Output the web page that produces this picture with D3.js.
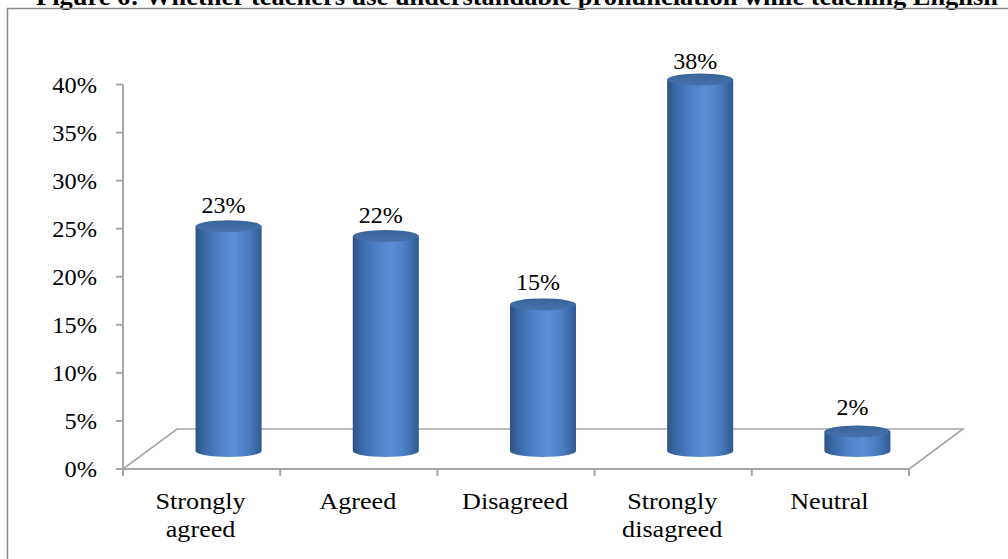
<!DOCTYPE html>
<html>
<head>
<meta charset="utf-8">
<script src="https://cdn.jsdelivr.net/npm/d3@7"></script>
<style>
  html, body { margin: 0; padding: 0; background: #ffffff; }
  svg { display: block; }
  text { font-family: "Liberation Serif", "Times New Roman", serif; fill: #000; }
</style>
</head>
<body>
<svg id="chart" width="1008" height="559"></svg>
<script>
// Survey responses (percent of respondents)
const categories = ["Strongly agreed", "Agreed", "Disagreed", "Strongly disagreed", "Neutral"];
const values = [23, 22, 15, 38, 2];
const yTicks = [0, 5, 10, 15, 20, 25, 30, 35, 40];
const titleText = "Figure 6: Whether teachers use understandable pronunciation while teaching English";

const svg = d3.select("#chart");

// Title (sits above the chart frame)
svg.append("text")
  .attr("x", 36).attr("y", 4.5)
  .attr("font-size", 25).attr("font-weight", "bold")
  .attr("textLength", 962).attr("lengthAdjust", "spacingAndGlyphs")
  .text(titleText);

// Chart frame
svg.append("rect")
  .attr("x", 7.5).attr("y", 8.5)
  .attr("width", 1100).attr("height", 700)
  .attr("fill", "none").attr("stroke", "#8a8a8a").attr("stroke-width", 1.5);

// Scales: front plane of the 3D box and the mid-depth plane the cylinders stand in
const x = d3.scaleBand().domain(categories).range([123, 909]);
const yFront = d3.scaleLinear().domain([0, 40]).range([469, 84.5]);
const yBar = d3.scaleLinear().domain([0, 40]).range([451, 60]);
const depth = { dx: 54, dy: -40 };
const barShift = depth.dx / 2;
const rx = x.bandwidth() * 0.21;
const ry = 6;

const gridColor = "#a6a6a6";

// Floor of the 3D box
const x0 = x.range()[0], x1 = x.range()[1], yb = yFront(0);
svg.append("path")
  .attr("d", `M${x0},${yb} L${x0 + depth.dx},${yb + depth.dy} L${x1 + depth.dx},${yb + depth.dy} L${x1},${yb}`)
  .attr("fill", "none").attr("stroke", gridColor).attr("stroke-width", 1.6);

// Value axis
svg.append("line")
  .attr("x1", x0).attr("x2", x0)
  .attr("y1", yFront(40)).attr("y2", yb + 5)
  .attr("stroke", gridColor).attr("stroke-width", 2);

svg.selectAll(".ytick").data(yTicks).enter().append("line")
  .attr("x1", x0 - 7).attr("x2", x0)
  .attr("y1", d => yFront(d)).attr("y2", d => yFront(d))
  .attr("stroke", gridColor).attr("stroke-width", 2);

svg.selectAll(".ylab").data(yTicks).enter().append("text")
  .attr("text-anchor", "end")
  .attr("font-size", 23)
  .attr("transform", d => `translate(97,${yFront(d) + 8}) scale(1.06,1)`)
  .text(d => d + "%");

// Category axis
svg.append("line")
  .attr("x1", x0).attr("x2", x1)
  .attr("y1", yb).attr("y2", yb)
  .attr("stroke", gridColor).attr("stroke-width", 2);

const catEdges = categories.map(c => x(c)).concat([x1]);
svg.selectAll(".xtick").data(catEdges).enter().append("line")
  .attr("x1", d => d).attr("x2", d => d)
  .attr("y1", yb).attr("y2", yb + 7)
  .attr("stroke", gridColor).attr("stroke-width", 2);

const catLabels = svg.selectAll(".xlab").data(categories).enter().append("text")
  .attr("text-anchor", "middle")
  .attr("font-size", 24)
  .attr("transform", d => `translate(${x(d) + x.bandwidth() / 2 - 1},509) scale(1.09,1)`);
catLabels.each(function (d) {
  const words = d.split(" ");
  const lines = words.length > 1 ? [words[0], words.slice(1).join(" ")] : [d];
  lines.forEach((ln, i) => {
    d3.select(this).append("tspan").attr("x", 0).attr("y", i * 28).text(ln);
  });
});

// Cylinder shading
const defs = svg.append("defs");
const bodyGrad = defs.append("linearGradient").attr("id", "cylBody")
  .attr("x1", "0%").attr("x2", "100%").attr("y1", "0%").attr("y2", "0%");
[["0%", "#2b5183"], ["12%", "#3a68a5"], ["35%", "#4d80c6"], ["58%", "#5a8fd6"], ["80%", "#4a7cc0"], ["100%", "#2f5a91"]]
  .forEach(([o, c]) => bodyGrad.append("stop").attr("offset", o).attr("stop-color", c));
const capGrad = defs.append("linearGradient").attr("id", "cylCap")
  .attr("x1", "0%").attr("x2", "0%").attr("y1", "0%").attr("y2", "100%");
[["0%", "#3a6399"], ["100%", "#4672ad"]]
  .forEach(([o, c]) => capGrad.append("stop").attr("offset", o).attr("stop-color", c));

const data = categories.map((c, i) => ({ cat: c, value: values[i] }));
const bars = svg.selectAll(".bar").data(data).enter().append("g");

bars.append("path")
  .attr("d", d => {
    const cx = x(d.cat) + x.bandwidth() / 2 + barShift;
    const yt = yBar(d.value), ybt = yBar(0);
    return `M${cx - rx},${yt} L${cx - rx},${ybt} A${rx},${ry} 0 0 0 ${cx + rx},${ybt} L${cx + rx},${yt} Z`;
  })
  .attr("fill", "url(#cylBody)");

bars.append("ellipse")
  .attr("cx", d => x(d.cat) + x.bandwidth() / 2 + barShift)
  .attr("cy", d => yBar(d.value))
  .attr("rx", rx).attr("ry", ry)
  .attr("fill", "url(#cylCap)");

// Value labels
bars.append("text")
  .attr("text-anchor", "middle")
  .attr("font-size", 24)
  .attr("x", d => x(d.cat) + x.bandwidth() / 2 + barShift - 5)
  .attr("y", d => yFront(d.value) - 35)
  .text(d => d.value + "%");
</script>
</body>
</html>
